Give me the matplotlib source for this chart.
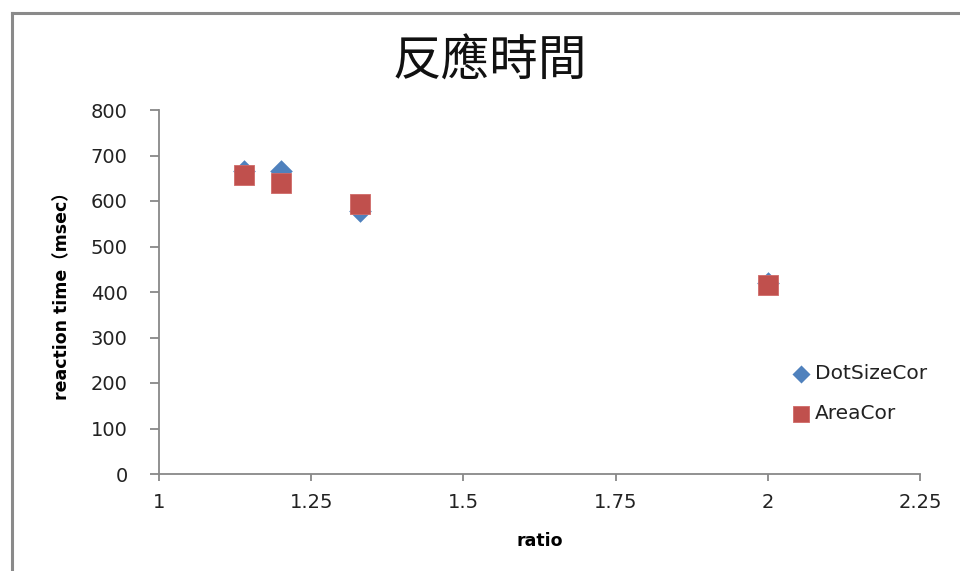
import matplotlib
matplotlib.use("Agg")
import matplotlib.pyplot as plt
from matplotlib.lines import Line2D

plt.rcParams['font.family'] = ['DejaVu Sans', 'Noto Sans CJK TC']

# Data
title = "反應時間"
x_label = "ratio"
y_label = "reaction time（msec）"
series_names = ["DotSizeCor", "AreaCor"]
ratio = [1.14, 1.2, 1.33, 2.0]
dot_size_cor = [665, 665, 578, 420]
area_cor = [658, 640, 593, 415]
x_ticks = [1, 1.25, 1.5, 1.75, 2, 2.25]
x_tick_labels = ["1", "1.25", "1.5", "1.75", "2", "2.25"]
y_ticks = [0, 100, 200, 300, 400, 500, 600, 700, 800]

BLUE = "#4F81BD"
RED = "#C0504D"
AXIS_GRAY = "#888888"

fig = plt.figure(figsize=(9.6, 5.71), dpi=100)
fig.patch.set_facecolor("white")

# Outer chart frame (left and top edges)
fig.add_artist(Line2D([11.5 / 960, 11.5 / 960], [0, 1 - 13 / 571],
                      transform=fig.transFigure, color="#8a8a8a", lw=2.2))
fig.add_artist(Line2D([11.5 / 960, 1], [1 - 13 / 571, 1 - 13 / 571],
                      transform=fig.transFigure, color="#8a8a8a", lw=2.2))

ax = fig.add_axes([159 / 960, 1 - 474 / 571, (920 - 159) / 960, (474 - 110) / 571])

ax.scatter(ratio, dot_size_cor, marker="D", s=11.5 ** 2, color=BLUE,
           linewidths=0, label=series_names[0], zorder=3, clip_on=False)
ax.scatter(ratio, area_cor, marker="s", s=15 ** 2, color=RED,
           edgecolors="#D06A67", linewidths=0.6, label=series_names[1],
           zorder=4, clip_on=False)

ax.set_xlim(1, 2.25)
ax.set_ylim(0, 800)
ax.set_xticks(x_ticks)
ax.set_xticklabels(x_tick_labels)
ax.set_yticks(y_ticks)

for side in ("top", "right"):
    ax.spines[side].set_visible(False)
for side in ("left", "bottom"):
    ax.spines[side].set_color(AXIS_GRAY)
    ax.spines[side].set_linewidth(1.3)

ax.tick_params(axis="both", colors=AXIS_GRAY, labelcolor="#222222",
               labelsize=14, width=1.3)
ax.tick_params(axis="y", length=6.5, pad=16)
ax.tick_params(axis="x", length=5, pad=9)

ax.set_xlabel(x_label, fontsize=12.5, fontweight="bold", labelpad=14)
ax.set_ylabel(y_label, fontsize=12.5, fontweight="bold", labelpad=14)

fig.text(490 / 960, 1 - 62 / 571, title, fontsize=35,
         family=["Noto Sans CJK TC"], ha="center", va="center", color="#111111")

leg = ax.legend(loc="upper left", bbox_to_anchor=(781 / 960, 1 - 354 / 571),
                bbox_transform=fig.transFigure, frameon=False, fontsize=14.5,
                borderpad=0, handlelength=1.0, handletextpad=0.2,
                labelspacing=1.05, scatterpoints=1, markerscale=0.8)
for t in leg.get_texts():
    t.set_color("#222222")

fig.savefig("out.png", dpi=100, facecolor="white")
